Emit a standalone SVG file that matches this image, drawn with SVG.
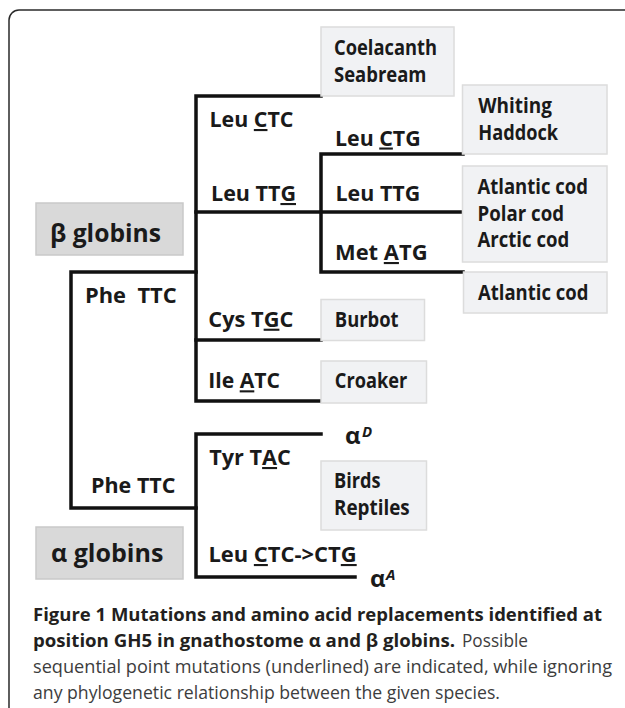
<svg xmlns="http://www.w3.org/2000/svg" width="625" height="708" viewBox="0 0 625 708">
<style>
.t{font-family:"Open Sans","Liberation Sans",sans-serif;font-weight:bold;font-size:21px;fill:#1a1a1a}
.big{font-size:25px}
.u{text-decoration:underline;text-decoration-thickness:2.5px;text-underline-offset:2px}
.box{fill:#f1f2f4;stroke:#dcdcdc;stroke-width:1.5}
.gbox{fill:#d9d9d9;stroke:#c9c9c9;stroke-width:1.5}
.ln{stroke:#111;stroke-width:3.5;fill:none;stroke-linecap:square}
.cb{font-family:"Open Sans","Liberation Sans",sans-serif;font-weight:bold;font-size:18px;fill:#231f20}
.cn{font-family:"Open Sans","Liberation Sans",sans-serif;font-weight:normal;font-size:18px;fill:#3d3d3d}
</style>
<rect x="9" y="10" width="700" height="760" rx="10" fill="#fff" stroke="#2a2a2a" stroke-width="1.5"/>
<g id="connectors">
<path class="ln" d="M321,96 H196 V401 H321"/>
<path class="ln" d="M196,212 H462"/>
<path class="ln" d="M196,340 H321"/>
<path class="ln" d="M463,154 H321 V272 H463"/>
<path class="ln" d="M196,272 H71 V508 H196"/>
<path class="ln" d="M321,434 H196 V577 H355"/>
</g>
<g id="n-coelacanth"><rect class="box" x="321" y="27" width="133" height="69"/>
<text class="t" x="334" y="55" textLength="103" lengthAdjust="spacingAndGlyphs">Coelacanth</text>
<text class="t" x="334" y="82" textLength="92.5" lengthAdjust="spacingAndGlyphs">Seabream</text></g>
<g id="n-whiting"><rect class="box" x="462.5" y="85" width="144.5" height="69"/>
<text class="t" x="478.3" y="113" textLength="73.7" lengthAdjust="spacingAndGlyphs">Whiting</text>
<text class="t" x="478.3" y="140" textLength="79.7" lengthAdjust="spacingAndGlyphs">Haddock</text></g>
<g id="n-cods"><rect class="box" x="462.5" y="166" width="144.5" height="96"/>
<text class="t" x="477.5" y="194" textLength="110.4" lengthAdjust="spacingAndGlyphs">Atlantic cod</text>
<text class="t" x="477.5" y="221" textLength="86.5" lengthAdjust="spacingAndGlyphs">Polar cod</text>
<text class="t" x="477.5" y="247" textLength="91.7" lengthAdjust="spacingAndGlyphs">Arctic cod</text></g>
<g id="n-atlantic"><rect class="box" x="463.5" y="272" width="143.5" height="41"/>
<text class="t" x="478" y="300" textLength="110.4" lengthAdjust="spacingAndGlyphs">Atlantic cod</text></g>
<g id="n-burbot"><rect class="box" x="321" y="299.5" width="103.5" height="41"/>
<text class="t" x="334.8" y="326.7" textLength="63.8" lengthAdjust="spacingAndGlyphs">Burbot</text></g>
<g id="n-croaker"><rect class="box" x="321" y="361" width="105.5" height="42"/>
<text class="t" x="334.8" y="388.3" textLength="72.5" lengthAdjust="spacingAndGlyphs">Croaker</text></g>
<g id="n-birds"><rect class="box" x="321" y="461" width="105.5" height="69"/>
<text class="t" x="334" y="488.3" textLength="46.6" lengthAdjust="spacingAndGlyphs">Birds</text>
<text class="t" x="334" y="515" textLength="75.7" lengthAdjust="spacingAndGlyphs">Reptiles</text></g>
<g id="n-beta"><rect class="gbox" x="36" y="203" width="147" height="52"/>
<text class="t big" x="50" y="242" textLength="111" lengthAdjust="spacingAndGlyphs">β globins</text></g>
<g id="n-alpha"><rect class="gbox" x="36" y="527" width="147" height="52"/>
<text class="t big" x="51" y="562" textLength="112.4" lengthAdjust="spacingAndGlyphs">α globins</text></g>
<g id="labels">
<text class="t" x="209.5" y="127" textLength="84" lengthAdjust="spacingAndGlyphs">Leu <tspan class="u">C</tspan>TC</text>
<text class="t" x="335" y="145.5" textLength="85.7" lengthAdjust="spacingAndGlyphs">Leu <tspan class="u">C</tspan>TG</text>
<text class="t" x="211" y="201" textLength="85" lengthAdjust="spacingAndGlyphs">Leu TT<tspan class="u">G</tspan></text>
<text class="t" x="335.5" y="201" textLength="84.7" lengthAdjust="spacingAndGlyphs">Leu TTG</text>
<text class="t" x="335" y="260" textLength="92.5" lengthAdjust="spacingAndGlyphs">Met <tspan class="u">A</tspan>TG</text>
<text class="t" x="85" y="303" textLength="91.7" lengthAdjust="spacingAndGlyphs" xml:space="preserve">Phe  TTC</text>
<text class="t" x="208.3" y="326.7" textLength="85" lengthAdjust="spacingAndGlyphs">Cys T<tspan class="u">G</tspan>C</text>
<text class="t" x="208.3" y="388.3" textLength="71.7" lengthAdjust="spacingAndGlyphs">Ile <tspan class="u">A</tspan>TC</text>
<text class="t" x="209.2" y="465" textLength="81.7" lengthAdjust="spacingAndGlyphs">Tyr T<tspan class="u">A</tspan>C</text>
<text class="t" x="91" y="493.3" textLength="84.5" lengthAdjust="spacingAndGlyphs">Phe TTC</text>
<text class="t" x="208.4" y="562" textLength="148.3" lengthAdjust="spacingAndGlyphs">Leu <tspan class="u">C</tspan>TC-&gt;CT<tspan class="u">G</tspan></text>
<text class="t" x="345" y="443.5" style="font-size:24px">α<tspan x="362" y="437" style="font-size:15px;font-style:italic">D</tspan></text>
<text class="t" x="370" y="587" style="font-size:24px">α<tspan x="386" y="580" style="font-size:15px;font-style:italic">A</tspan></text>
</g>
<g id="caption">
<text class="cb" x="33" y="621" textLength="569" lengthAdjust="spacingAndGlyphs">Figure 1 Mutations and amino acid replacements identified at</text>
<text class="cb" x="33" y="647" textLength="422" lengthAdjust="spacingAndGlyphs">position GH5 in gnathostome α and β globins.</text>
<text class="cn" x="462" y="647" textLength="66" lengthAdjust="spacingAndGlyphs">Possible</text>
<text class="cn" x="33" y="673" textLength="579" lengthAdjust="spacingAndGlyphs">sequential point mutations (underlined) are indicated, while ignoring</text>
<text class="cn" x="33" y="699" textLength="467" lengthAdjust="spacingAndGlyphs">any phylogenetic relationship between the given species.</text>
</g>
</svg>
